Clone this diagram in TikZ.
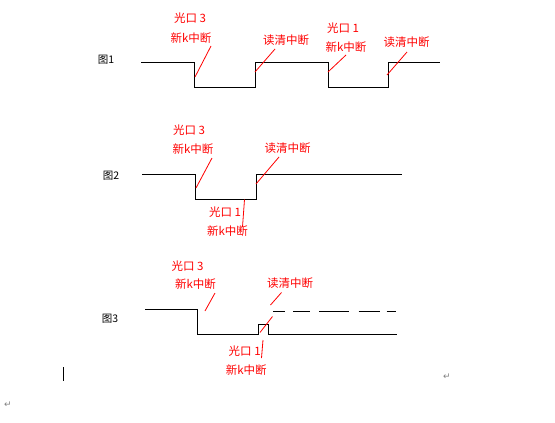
\documentclass[tikz,border=0pt]{standalone}
\usepackage{fontspec}
\newfontfamily\cjk{Noto Sans CJK SC}
\newfontfamily\symfont{DejaVu Sans}
\begin{document}
\begin{tikzpicture}[x=1pt,y=-1pt,
  wave/.style={black,line width=1pt},
  lead/.style={red,line width=0.8pt},
  lbl/.style={red,inner sep=0pt,font=\cjk\fontsize{11.5}{12}\selectfont},
  fig/.style={black,inner sep=0pt,font=\cjk\fontsize{10.5}{11}\selectfont},
  parmark/.style={gray,inner sep=0pt,font=\symfont\fontsize{9}{9}\selectfont}]
\useasboundingbox (0,0) rectangle (555,423);
% ---------- Figure 1
\node[fig] (f1) at (106,60) {图1};
\draw[wave] (141,62) -- (194,62) -- (194,87) -- (255,87) -- (255,62) -- (328,62) -- (328,87) -- (388,87) -- (388,62) -- (440,62);
\node[lbl] (a1) at (190,18) {光口 3};
\node[lbl] (a2) at (191,38) {新k中断};
\draw[lead] (211,46) -- (195,77);
\node[lbl] (a3) at (286,40) {读清中断};
\draw[lead] (275,49) -- (255,72);
\node[lbl] (a4) at (343,28) {光口 1};
\node[lbl] (a5) at (346,47) {新k中断};
\draw[lead] (346,55) -- (328,72);
\node[lbl] (a6) at (406.5,42) {读清中断};
\draw[lead] (407,52) -- (387,75);
% ---------- Figure 2
\node[fig] (f2) at (111,176) {图2};
\draw[wave] (142,174.5) -- (195,174.5) -- (195,199.5) -- (256,199.5) -- (256,174.5) -- (402,174.5);
\node[lbl] (b1) at (189,130) {光口 3};
\node[lbl] (b2) at (193,149) {新k中断};
\draw[lead] (212,158) -- (196,188);
\node[lbl] (b3) at (287.5,148) {读清中断};
\draw[lead] (279,157) -- (256,184);
\node[lbl] (b4) at (225,212) {光口 1};
\node[lbl] (b5) at (227.5,231) {新k中断};
\draw[lead] (244.5,199.5) -- (242.5,227);
% ---------- Figure 3
\node[fig] (f3) at (110,318.5) {图3};
\draw[wave] (145,309.5) -- (197.5,309.5) -- (197.5,334.5) -- (258.5,334.5) -- (258.5,324) -- (268.5,324) -- (268.5,334.5) -- (397,334.5);
\draw[wave] (273,311.7) -- (284.5,311.7);
\draw[wave] (293,311.7) -- (309.5,311.7);
\draw[wave] (319,311.7) -- (349,311.7);
\draw[wave] (358.5,311.7) -- (379.5,311.7);
\draw[wave] (386.5,311.7) -- (396,311.7);
\node[lbl] (c1) at (187.5,266) {光口 3};
\node[lbl] (c2) at (195.5,284.5) {新k中断};
\draw[lead] (215,293) -- (205,311);
\node[lbl] (c3) at (290,283) {读清中断};
\draw[lead] (281.5,292.5) -- (270.5,305);
\draw[lead] (272.5,316.5) -- (260,332.5);
\node[lbl] (c4) at (244.7,351) {光口 1};
\node[lbl] (c5) at (246.3,370) {新k中断};
\draw[lead] (263,340) -- (261.5,358);
% ---------- editor marks
\draw[black,line width=1.6pt] (63.5,367) -- (63.5,381);
\node[parmark] (m1) at (8,405) {↵};
\node[parmark] (m2) at (447,377) {↵};
\end{tikzpicture}
\end{document}
